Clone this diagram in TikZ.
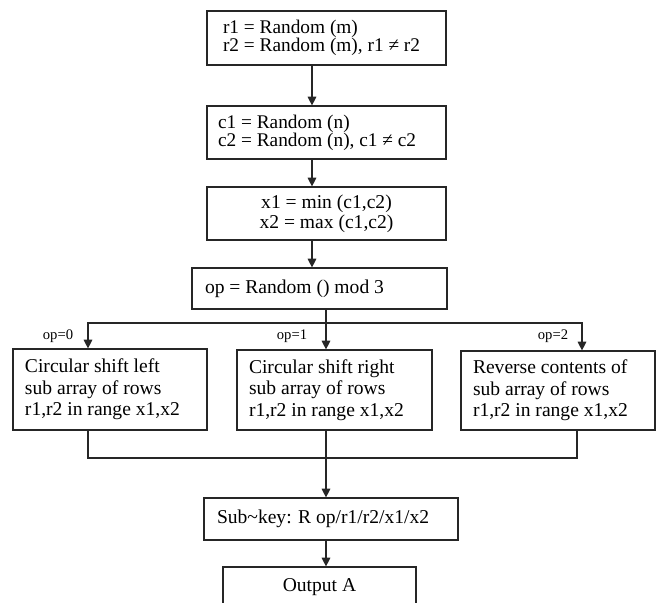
\documentclass[tikz,border=0pt]{standalone}
\usepackage{fontspec}
\setmainfont{Liberation Serif}
\usepackage{tikz}
\usetikzlibrary{arrows.meta,positioning}
\newcommand{\boxfont}{\fontsize{16.7}{18.4}\selectfont}
\tikzset{
  flowbox/.style={draw=black!85,line width=1pt,inner ysep=0pt,
                  align=flush left,font=\boxfont},
  oplabel/.style={inner sep=0pt,font=\fontsize{12.5}{13}\selectfont},
  flowarr/.style={-{Triangle[length=2.6mm,width=2.6mm]},line width=1pt,
                  draw=black!85},
  joinline/.style={line width=1pt,draw=black!85}
}

\begin{document}
\begin{tikzpicture}[x=0.3mm,y=-0.3mm]
    \path[use as bounding box] (0,0) rectangle (660,603);
    \node[flowbox,text width=62.1mm,inner xsep=4.8mm,minimum height=16.2mm,
          font=\fontsize{16.5}{15.6}\selectfont] (rbox) at (326.5,38)
      {r1 = Random (m)\\r2 = Random (m), r1 ≠ r2};
    \node[flowbox,text width=65.1mm,inner xsep=3.3mm,minimum height=15.9mm,
          font=\fontsize{16.5}{15.6}\selectfont] (cbox) at (326.5,132.5)
      {c1 = Random (n)\\c2 = Random (n), c1 ≠ c2};
    \node[flowbox,text width=71.7mm,inner xsep=0pt,minimum height=15.9mm,
          align=flush center,font=\fontsize{16.7}{17.1}\selectfont] (xbox) at (326.5,213.5)
      {x1 = min (c1,c2)\\x2 = max (c1,c2)};
    \node[flowbox,text width=68.7mm,inner xsep=3.9mm,minimum height=12.3mm]
      (opbox) at (319.5,288.5) {op = Random () mod 3};
    \node[flowbox,text width=51mm,inner xsep=3.6mm,minimum height=24.3mm]
      (leftbox) at (110,389.5)
      {Circular shift left\\sub array of rows\\r1,r2 in range x1,x2};
    \node[flowbox,text width=51.3mm,inner xsep=3.6mm,minimum height=24mm]
      (midbox) at (334.5,390)
      {Circular shift right\\sub array of rows\\r1,r2 in range x1,x2};
    \node[flowbox,text width=51mm,inner xsep=3.6mm,minimum height=23.7mm]
      (rightbox) at (558,390.5)
      {Reverse contents of\\sub array of rows\\r1,r2 in range x1,x2};
    \node[flowbox,text width=68.4mm,inner xsep=3.9mm,minimum height=12.6mm]
      (subbox) at (331,519) {Sub\textasciitilde key: R op/r1/r2/x1/x2};
    \node[flowbox,text width=57.9mm,inner xsep=0pt,minimum height=12mm,
          align=flush center] (outbox) at (319.5,587) {Output A};
    \node[oplabel] (op0) at (58,336) {op=0};
    \node[oplabel] (op1) at (292,336) {op=1};
    \node[oplabel] (op2) at (553,336) {op=2};
    % main column
    \draw[flowarr] ([xshift=-4.35mm]rbox.south) -- ([xshift=-4.35mm]cbox.north);
    \draw[flowarr] ([xshift=-4.35mm]cbox.south) -- ([xshift=-4.35mm]xbox.north);
    \draw[flowarr] ([xshift=-4.35mm]xbox.south) -- ([xshift=-4.35mm]xbox.south |- opbox.north);
    % branches
    \coordinate (split) at (326,323);
    \coordinate (merge) at (326,458);
    \draw[flowarr] (split |- opbox.south) -- (split |- midbox.north);
    \draw[flowarr] (split) -| ([xshift=-6.6mm]leftbox.north);
    \draw[flowarr] (split) -| ([xshift=7.2mm]rightbox.north);
    \draw[joinline] ([xshift=-6.6mm]leftbox.south) |- (merge) -| ([xshift=5.7mm]rightbox.south);
    \draw[flowarr] (merge |- midbox.south) -- (merge |- subbox.north);
    \draw[flowarr] (merge |- subbox.south) -- (merge |- outbox.north);
\end{tikzpicture}
\end{document}
